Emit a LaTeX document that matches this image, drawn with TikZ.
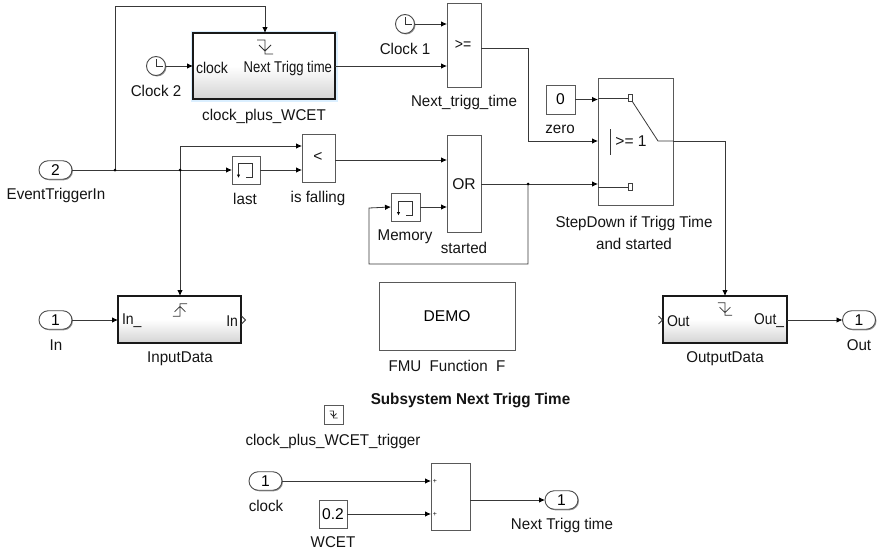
\documentclass[tikz,border=0pt]{standalone}
\usepackage{fontspec}
\setmainfont{Liberation Sans}
\usetikzlibrary{arrows.meta,shadows,shapes.misc,calc}
\newcommand{\bigfont}{\fontsize{15.6}{18}\selectfont}
\tikzset{
  wire/.style={draw=black!78,line width=0.8pt},
  arr/.style={wire,-{Latex[length=6pt,width=5.5pt,black]}},
  blk/.style={draw=black!65,line width=0.9pt,fill=white,inner sep=0pt,outer sep=0pt,anchor=north west,
    drop shadow={shadow xshift=1.2pt,shadow yshift=-1.2pt,fill=black!45,opacity=1},font=\bigfont},
  sub/.style={draw=black!90,line width=1.6pt,inner sep=0pt,outer sep=0pt,anchor=north west,
    top color=white,bottom color=black!17,middle color=white,
    drop shadow={shadow xshift=0.8pt,shadow yshift=-0.8pt,fill=black!35,opacity=1}},
  pill/.style={rounded rectangle,draw=black!70,line width=0.9pt,fill=white,inner sep=0pt,outer sep=0pt,
    minimum width=33pt,minimum height=18.5pt,font=\bigfont,
    drop shadow={shadow xshift=1pt,shadow yshift=-1pt,fill=black!40,opacity=1}},
  clk/.style={circle,draw=black!70,line width=0.9pt,fill=white,inner sep=0pt,outer sep=0pt,minimum size=19pt,
    drop shadow={shadow xshift=1pt,shadow yshift=-1pt,fill=black!40,opacity=1}},
  lab/.style={font=\bigfont,text=black!92,inner sep=0pt,outer sep=0pt,yshift=-1pt},
  inlab/.style={font=\bigfont,text=black!92,inner sep=0pt,outer sep=0pt},
  dot/.style={circle,fill=black,inner sep=0pt,minimum size=3pt},
  icon/.style={draw=black!80,line width=0.8pt},
}
% horizontally condensed text, as in the reference
\newcommand{\cond}[2]{\scalebox{#1}[1]{#2}}
% falling-edge trigger glyph
\newcommand{\fallicon}[3]{\begin{scope}[shift={(#1,#2)},scale=#3]
  \draw[icon] (-8,-7)--(0,-7)--(0,7)--(8,7) (-6,-2)--(0,4)--(6,-2);\end{scope}}
% rising-edge trigger glyph
\newcommand{\riseicon}[3]{\begin{scope}[shift={(#1,#2)},scale=#3]
  \draw[icon] (-8,7)--(0,7)--(0,-7)--(8,-7) (-6,2)--(0,-4)--(6,2);\end{scope}}
% unit delay glyph
\newcommand{\memicon}[2]{\begin{scope}[shift={(#1,#2)}]
  \draw[icon] (-7,5)--(-7,-7)--(7,-7)--(7,7)--(0,7);
  \draw[icon,-{Latex[length=3.5pt,width=3.5pt,black]}] (-7,2)--(-7,7.5);\end{scope}}
% clock face
\newcommand{\clkface}[2]{\draw[icon] ($(#1,#2)+(0,-7)$)--(#1,#2)--($(#1,#2)+(7,0)$);}
\begin{document}
\begin{tikzpicture}[x=1pt,y=-1pt]
\useasboundingbox (0,0) rectangle (879,554);

% sources and blocks
\node[pill] (trigin) at (55.5,170) {2};
\node[lab] (trigl) at (56,194) {\cond{.97}{EventTriggerIn}};
\coordinate (j1) at (115,170);
\coordinate (j2) at (180,170);

\fill[blue!45!cyan!14] (190.5,30.5) rectangle (337.5,101.5);
\node[sub,minimum width=142pt,minimum height=66pt] (cpw) at (193,33) {};
\node[lab] (cpwl) at (264,115) {\cond{.97}{clock\_plus\_WCET}};
\node[inlab] (cpwa) at (212,68) {\cond{.9}{clock}};
\node[inlab,anchor=east] (cpwb) at (332,68) {\cond{.84}{Next Trigg time}};
\fallicon{265}{47}{1}

\node[clk] (clk2) at (156,66) {};
\clkface{156}{66}
\node[lab] (clk2l) at (156,90) {\cond{.97}{Clock 2}};

\node[clk] (clk1) at (405,24) {};
\clkface{405}{24}
\node[lab] (clk1l) at (405,48) {\cond{.97}{Clock 1}};

\node[blk,minimum width=34pt,minimum height=84pt] (cmp) at (447,3) {};
\node[inlab] (cmpt) at (463,45) {\cond{.9}{>=}};
\node[lab] (cmpl) at (464,101) {\cond{.97}{Next\_trigg\_time}};

\node[blk,minimum width=28pt,minimum height=28pt] (last) at (232,156) {};
\memicon{245.5}{170.5}
\node[lab] (lastl) at (245,198) {\cond{.97}{last}};

\node[blk,minimum width=33pt,minimum height=48pt] (fall) at (302,134) {};
\node[inlab] (fallt) at (318,157) {<};
\node[lab] (falll) at (318,197) {\cond{.97}{is falling}};

\node[blk,minimum width=34pt,minimum height=97pt] (orb) at (447,135) {};
\node[inlab] (ort) at (464,184) {OR};
\node[lab] (orl) at (464,247) {\cond{.97}{started}};

\node[blk,minimum width=29pt,minimum height=28pt] (mem) at (391,193) {};
\memicon{405.5}{208}
\node[lab] (meml) at (405,236) {\cond{.97}{Memory}};

\node[blk,minimum width=29pt,minimum height=29pt] (zero) at (546,85) {0};
\node[lab] (zerol) at (560,128) {\cond{.97}{zero}};

\node[blk,minimum width=75pt,minimum height=127pt] (sw) at (598,78) {};
\node[lab,anchor=base] (swl1) at (634,226) {\cond{.97}{StepDown if Trigg Time}};
\node[lab,anchor=base] (swl2) at (634,248) {\cond{.97}{and started}};
\node[inlab] (swt) at (631,141.5) {>= 1};
\node[draw=black!75,line width=.7pt,inner sep=0pt,minimum width=3.5pt,minimum height=7pt,fill=white] (p1) at (630.5,98) {};
\node[draw=black!75,line width=.7pt,inner sep=0pt,minimum width=3.5pt,minimum height=7pt,fill=white] (p2) at (630.5,187) {};
\coordinate (swo) at (658,141);
\draw[wire] (598,98) -- (p1.west);
\draw[wire] (598,187) -- (p2.west);
\draw[wire] (632,101) -- (swo) -- (swo -| sw.east);
\draw[wire,line width=1pt] (610,129) -- (610,155);

\node[sub,minimum width=123pt,minimum height=47pt] (inp) at (118,296) {};
\node[inlab,anchor=west] (inpa) at (122,321) {\cond{.9}{In\_}};
\node[inlab,anchor=east] (inpb) at (238,321) {\cond{.9}{In}};
\riseicon{180}{310}{.9}
\draw[icon,line width=1pt] (241.5,316)--(245.5,320)--(241.5,324);
\node[lab] (inpl) at (180,358) {\cond{.97}{InputData}};
\node[pill] (in1) at (55.5,320) {1};
\node[lab] (in1l) at (56,344) {\cond{.97}{In}};

\node[sub,minimum width=124pt,minimum height=47pt] (outp) at (663,296) {};
\node[inlab,anchor=west] (outa) at (667,321) {\cond{.9}{Out}};
\node[inlab,anchor=east] (outb) at (784,321) {\cond{.88}{Out\_}};
\fallicon{725}{309}{.9}
\draw[icon,line width=1pt] (658.5,316)--(662.5,320)--(658.5,324);
\node[lab] (outl) at (725,358) {\cond{.97}{OutputData}};
\node[pill] (out1) at (859,320) {1};
\node[lab] (out1l) at (859,344) {\cond{.97}{Out}};

\node[blk,minimum width=136pt,minimum height=68pt] (demo) at (379,282) {DEMO};
\node[lab] (demol) at (447,365) {\cond{.97}{FMU\ \ Function\ \ F}};

\node[lab,font=\fontsize{15.7}{18}\selectfont\bfseries] (title) at (470.5,399) {\cond{.97}{Subsystem Next Trigg Time}};

\node[blk,minimum width=19pt,minimum height=19pt] (trg) at (324,405) {};
\fallicon{333.5}{414.5}{.5}
\node[lab] (trgl) at (333,440) {\cond{.97}{clock\_plus\_WCET\_trigger}};

\node[pill] (clkp) at (265.5,481) {1};
\node[lab] (clkpl) at (266,505) {\cond{.97}{clock}};
\node[blk,minimum width=28pt,minimum height=28pt] (wcet) at (319,500) {0.2};
\node[lab] (wcetl) at (333,541) {\cond{.97}{WCET}};
\node[blk,minimum width=39pt,minimum height=67pt] (sum) at (431,463) {};
\node[inlab,font=\fontsize{7}{8}\selectfont] (sp1) at (435,481) {+};
\node[inlab,font=\fontsize{7}{8}\selectfont] (sp2) at (435,514) {+};
\node[pill] (nt) at (561.5,500) {1};
\node[lab] (ntl) at (562,524) {\cond{.97}{Next Trigg time}};

% connectors
\draw[wire] (trigin.east) -- (j1);
\draw[wire] (j1) -- (j2);
\draw[arr] (j2) -- (last.west |- j2);
\draw[arr] (j1) -- (115,6) -| ($(cpw.north west)!.5!(cpw.north east)+(1,0)$);
\draw[arr] (j2) |- (fall.west |- 0,146);
\draw[arr] (last.east |- j2) -- (fall.west |- j2);
\draw[arr] (j2) -- (j2 |- inp.north);
\draw[arr] (clk2) -- (clk2 -| cpw.west);
\draw[arr] (cpw.east) -- (cpw.east -| cmp.west);
\draw[arr] (clk1) -- (clk1 -| cmp.west);
\coordinate (cmpo) at (cmp.east |- 0,48);
\coordinate (sel) at (sw.west |- swo);
\draw[arr] (cmpo) -| (528,141) -- (sel);
\draw[arr] (zero.east) -- (zero.east -| sw.west);
\draw[arr] (fall.east |- 0,160) -- (orb.west |- 0,160);
\draw[arr] (mem.east) -- (mem.east -| orb.west);
\coordinate (j3) at (528,184);
\draw[arr] (orb.east |- j3) -- (sw.west |- j3);
\draw[arr] (j3) -- (528,264) -| (369,208) -- (mem.west);
\coordinate (swx) at (725,141);
\draw[arr] (sw.east |- swo) -- (swx) -- (swx |- outp.north);
\draw[arr] (in1.east) -- (inp.west |- in1.east);
\draw[arr] (outp.east |- out1.west) -- (out1.west);
\draw[arr] (clkp.east) -- (sum.west |- clkp.east);
\draw[arr] (wcet.east) -- (sum.west |- wcet.east);
\draw[arr] (sum.east |- nt.west) -- (nt.west);

\node[dot] (d1) at (j1) {};
\node[dot] (d2) at (j2) {};
\node[dot] (d3) at (j3) {};
\end{tikzpicture}
\end{document}
